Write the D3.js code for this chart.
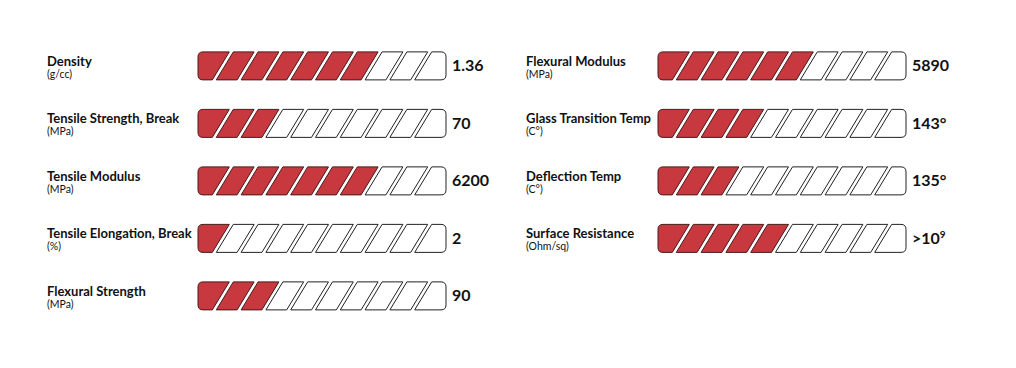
<!DOCTYPE html>
<html>
<head>
<meta charset="utf-8">
<style>
  body { margin: 0; background: #fff; }
  text { font-family: "Lato", "Open Sans", sans-serif; fill: #111; }
</style>
</head>
<body>
<svg width="1016" height="368"></svg>
<script src="https://cdn.jsdelivr.net/npm/d3@7/dist/d3.min.js"></script>
<script>

// left column
var leftLabels = ["Density", "Tensile Strength, Break", "Tensile Modulus", "Tensile Elongation, Break", "Flexural Strength"],
    leftUnits = ["(g/cc)", "(MPa)", "(MPa)", "(%)", "(MPa)"],
    leftValues = ["1.36", "70", "6200", "2", "90"],
    leftScores = [7, 3, 7, 1, 3];

// right column
var rightLabels = ["Flexural Modulus", "Glass Transition Temp", "Deflection Temp", "Surface Resistance"],
    rightUnits = ["(MPa)", "(C°)", "(C°)", "(Ohm/sq)"],
    rightValues = ["5890", "143°", "135°", ">10^9"],
    rightScores = [6, 4, 3, 5];

var segments = d3.range(10);

var svg = d3.select("svg");

var y = d3.scaleBand()
    .domain(d3.range(5))
    .range([37.5, 325])
    .paddingInner(0.5)
    .paddingOuter(0.25);

var barH = 28, slant = 17, gap = 4, r = 5;

function segPath(x, i, top) {
  var bot = top + barH;
  var b0 = x(i), b1 = x(i + 1);
  var p = "";
  // left edge
  if (i === 0) {
    p += "M" + (b0 + r) + "," + top;
  } else {
    p += "M" + (b0 + slant / 2 + gap / 2) + "," + top;
  }
  // top edge and right edge
  if (i === 9) {
    p += "L" + (b1 - r) + "," + top;
    p += "Q" + b1 + "," + top + " " + b1 + "," + (top + r);
    p += "L" + b1 + "," + (bot - r);
    p += "Q" + b1 + "," + bot + " " + (b1 - r) + "," + bot;
  } else {
    p += "L" + (b1 + slant / 2 - gap / 2) + "," + top;
    p += "L" + (b1 - slant / 2 - gap / 2) + "," + bot;
  }
  // bottom edge and left edge
  if (i === 0) {
    p += "L" + (b0 + r) + "," + bot;
    p += "Q" + b0 + "," + bot + " " + b0 + "," + (bot - r);
    p += "L" + b0 + "," + (top + r);
    p += "Q" + b0 + "," + top + " " + (b0 + r) + "," + top;
  } else {
    p += "L" + (b0 - slant / 2 + gap / 2) + "," + bot;
  }
  return p + "Z";
}

function column(labels, units, values, scores, labelX, barX0, barX1) {
  var x = d3.scaleLinear().domain([0, 10]).range([barX0, barX1]);

  var row = svg.append("g").selectAll("g")
    .data(labels)
    .join("g")
      .attr("transform", function(d, i) { return "translate(0," + y(i) + ")"; });

  row.append("text")
      .attr("x", labelX)
      .attr("y", 14)
      .attr("font-size", 13)
      .attr("font-weight", 700)
      .text(function(d) { return d; });

  row.append("text")
      .attr("x", labelX)
      .attr("y", 26)
      .attr("font-size", 10.5)
      .attr("fill", "#222")
      .text(function(d, i) { return units[i]; });

  row.each(function(d, i) {
    d3.select(this).selectAll("path")
      .data(segments)
      .join("path")
        .attr("d", function(s) { return segPath(x, s, 0); })
        .attr("fill", function(s) { return s < scores[i] ? "#c8393f" : "#fff"; })
        .attr("stroke", function(s) { return s < scores[i] ? "#4a1a1c" : "#222"; })
        .attr("stroke-width", 1);

    var t = d3.select(this).append("text")
        .attr("x", barX1 + 6)
        .attr("y", 19.5)
        .attr("font-size", 16)
        .attr("font-weight", 700);
    var v = values[i];
    if (v.indexOf("^") >= 0) {
      var parts = v.split("^");
      t.text(parts[0]);
      t.append("tspan").attr("dy", -6).attr("font-size", 10).text(parts[1]);
    } else {
      t.text(v);
    }
  });
}

column(leftLabels, leftUnits, leftValues, leftScores, 47, 198, 446);
column(rightLabels, rightUnits, rightValues, rightScores, 526, 658, 906);

</script>
</body>
</html>
